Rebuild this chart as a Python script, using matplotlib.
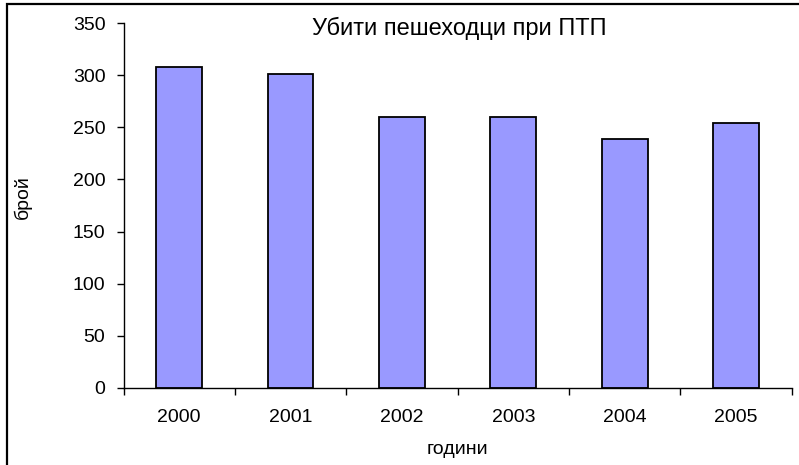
import matplotlib.pyplot as plt
from matplotlib.patches import Rectangle

plt.rcParams['font.family'] = ['Liberation Sans', 'DejaVu Sans']

# Pedestrians killed in road accidents, by year
years = ['2000', '2001', '2002', '2003', '2004', '2005']
deaths = [308, 301, 260, 260, 239, 254]

fig = plt.figure(figsize=(7.99, 4.65), dpi=100)
ax = fig.add_axes([0.1546, 0.1656, 0.8363, 0.7849])

x = range(len(years))
ax.bar(x, deaths, width=0.41, color='#9999ff', edgecolor='black', linewidth=1.3)

ax.set_xlim(-0.5, len(years) - 0.5)
ax.set_ylim(0, 350)
ax.set_yticks(range(0, 351, 50))

# tick marks sit between the categories, labels in the middle
ax.set_xticks([i - 0.5 for i in range(len(years) + 1)])
ax.set_xticklabels([])
ax.set_xticks(list(x), minor=True)
ax.set_xticklabels(years, minor=True)
ax.tick_params(axis='x', which='major', length=5, width=1, direction='out')
ax.tick_params(axis='x', which='minor', length=0, pad=15, labelsize=14)
ax.tick_params(axis='y', length=5, width=1, direction='out', pad=8, labelsize=14)

for side in ['top', 'right']:
    ax.spines[side].set_visible(False)
for side in ['left', 'bottom']:
    ax.spines[side].set_linewidth(1)

fig.text(459 / 799, 1 - 35 / 465, 'Убити пешеходци при ПТП',
         ha='center', va='baseline', fontsize=17)
ax.set_xlabel('години', fontsize=14, labelpad=11)
fig.text(22.5 / 799, 1 - 197 / 465, 'брой', rotation=90,
         ha='center', va='center', fontsize=14)

# frame around the whole chart
fig.patches.append(Rectangle((7 / 799, -0.1), 1.2, 1.1 - 4 / 465,
                             transform=fig.transFigure, fill=False,
                             edgecolor='black', linewidth=1.6))

fig.savefig('out.png', dpi=100)
